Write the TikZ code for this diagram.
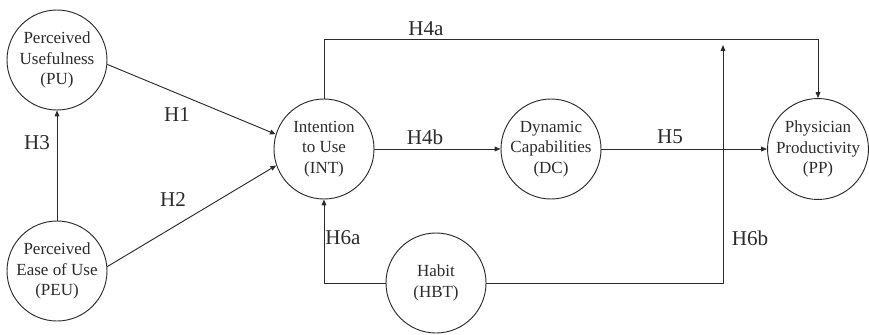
\documentclass[tikz,border=0pt]{standalone}
\usepackage{fontspec}
\setmainfont{Liberation Serif}
\usetikzlibrary{arrows.meta}
\definecolor{inkgray}{HTML}{2b2b2b}
\tikzstyle{construct}=[circle, minimum size=3cm, inner sep=0, align=center, draw=inkgray, line width=0.8pt, text=inkgray, font=\fontsize{14.5}{17.5}\selectfont]
\tikzstyle{hyp}=[text=inkgray, font=\fontsize{18}{20}\selectfont]
\tikzstyle{path}=[draw=inkgray, line width=0.8pt, -{Triangle[length=5pt, width=4pt]}]

\begin{document}
\begin{tikzpicture}[x=0.03cm, y=-0.03cm]

\useasboundingbox (0, 0) rectangle (869, 334);

\node [construct] (PU)  at ( 57,  60) {Perceived\\Usefulness\\(PU)};
\node [construct] (PEU) at ( 57, 271) {Perceived\\Ease of Use\\(PEU)};
\node [construct] (INT) at (324, 149) {Intention\\to Use\\(INT)};
\node [construct] (DC)  at (551, 149) {Dynamic\\Capabilities\\(DC)};
\node [construct] (PP)  at (818, 149) {Physician\\Productivity\\(PP)};
\node [construct] (HBT) at (436, 283) {Habit\\(HBT)};

\coordinate (c4a) at (324, 39);
\coordinate (c6b) at (723, 45);

\draw [path] (PEU) -- (PU);
\draw [path] (PU.-5) -- (INT.163);
\draw [path] (PEU.5) -- (INT.199);
\draw [path] (INT) -- (DC);
\draw [path] (DC) -- (PP);
\draw [path] (INT.north) -- (c4a) -| (PP.north);
\draw [path] (HBT.west) -| (INT.south);
\draw [path] (HBT.east) -| (c6b);

\node [hyp] (h1)  at (177, 115) {H1};
\node [hyp] (h2)  at (173, 200) {H2};
\node [hyp] (h3)  at ( 37, 143) {H3};
\node [hyp] (h4a) at (426,  29) {H4a};
\node [hyp] (h4b) at (425, 137) {H4b};
\node [hyp] (h5)  at (670, 137) {H5};
\node [hyp] (h6a) at (343, 238) {H6a};
\node [hyp] (h6b) at (750, 238) {H6b};

\end{tikzpicture}
\end{document}
